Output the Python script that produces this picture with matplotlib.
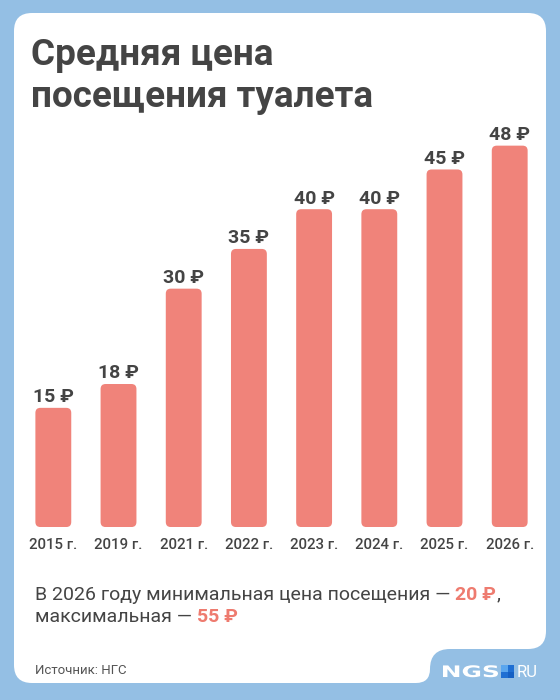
import matplotlib
matplotlib.use("Agg")
import matplotlib.pyplot as plt
from matplotlib.patches import FancyBboxPatch, PathPatch, Rectangle
from matplotlib.path import Path
from matplotlib.textpath import TextPath
from matplotlib.font_manager import FontProperties
from matplotlib.transforms import Affine2D

# data
years = ["2015 г.", "2019 г.", "2021 г.", "2022 г.", "2023 г.", "2024 г.", "2025 г.", "2026 г."]
prices = [15, 18, 30, 35, 40, 40, 45, 48]
min_price = 20
max_price = 55

title_lines = ["Средняя цена", "посещения туалета"]
source = "Источник: НГС"

BG = "#94bfe4"
BAR = "#f0837a"
TEXT = "#444444"
ACCENT = "#ee7b6f"

plt.rcParams["font.family"] = ["Roboto", "DejaVu Sans"]

fig = plt.figure(figsize=(5.6, 7), dpi=100)
fig.patch.set_facecolor(BG)

# background axes in pixel units (y down)
bg = fig.add_axes([0, 0, 1, 1])
bg.set_xlim(0, 560)
bg.set_ylim(700, 0)
bg.axis("off")

# white card with the notch for the logo
r = 18
verts = [
    (14 + r, 13), (546 - r, 13),
    (546, 13), (546, 13 + r),
    (546, 649 - r),
    (546, 649), (546 - r, 649),
    (450, 649),
    (430, 649), (430, 669),
    (430, 683), (416, 683),
    (14 + r, 683),
    (14, 683), (14, 683 - r),
    (14, 13 + r),
    (14, 13), (14 + r, 13),
    (14 + r, 13),
]
codes = [
    Path.MOVETO, Path.LINETO,
    Path.CURVE3, Path.CURVE3,
    Path.LINETO,
    Path.CURVE3, Path.CURVE3,
    Path.LINETO,
    Path.CURVE3, Path.CURVE3,
    Path.CURVE3, Path.CURVE3,
    Path.LINETO,
    Path.CURVE3, Path.CURVE3,
    Path.LINETO,
    Path.CURVE3, Path.CURVE3,
    Path.CLOSEPOLY,
]
bg.add_patch(PathPatch(Path(verts, codes), fc="white", ec="none"))

# title
bg.text(31, 65, title_lines[0], fontsize=26.6, fontweight="bold", color=TEXT, va="baseline")
bg.text(31, 107, title_lines[1], fontsize=26.6, fontweight="bold", color=TEXT, va="baseline")

# bars
ax = fig.add_axes([0.037, 0.2471, 0.9314, 0.6243])
ax.set_xlim(-0.5, 7.5)
ax.set_ylim(0, 55)
ax.patch.set_alpha(0)
for s in ax.spines.values():
    s.set_visible(False)

xs = list(range(len(prices)))
bars = ax.bar(xs, prices, width=0.55, color=BAR)

# round the bar corners
box = ax.get_position()
px_x = box.width * 560 / 8.0
px_y = box.height * 700 / 55.0
aspect = px_x / px_y
for b in bars:
    fb = FancyBboxPatch((b.get_x(), b.get_y()), b.get_width(), b.get_height(),
                        boxstyle="round,pad=0,rounding_size=%f" % (5 / px_x),
                        mutation_aspect=aspect, fc=BAR, ec="none")
    b.remove()
    ax.add_patch(fb)

for i, v in enumerate(prices):
    ax.annotate(f"{v} ₽", (i, v), xytext=(0, 4), textcoords="offset points",
                ha="center", va="baseline", fontsize=14, fontweight="bold", color=TEXT)

ax.set_xticks(xs, years)
ax.set_yticks([])
ax.tick_params(axis="x", length=0, pad=8, labelsize=10.8, labelcolor=TEXT)
for lbl in ax.get_xticklabels():
    lbl.set_fontweight("medium")

# footer note with coloured values
renderer = fig.canvas.get_renderer()
inv = bg.transData.inverted()


def write_run(x, y, pieces, size=14):
    for txt, color, weight, gap in pieces:
        t = bg.text(x, y, txt, fontsize=size, color=color, fontweight=weight, va="baseline")
        ext = t.get_window_extent(renderer)
        x = inv.transform((ext.x1, ext.y0))[0] + gap


write_run(35, 599.5, [
    ("В 2026 году минимальная цена посещения —", TEXT, "normal", 5),
    (f"{min_price} ₽", ACCENT, "bold", 0),
    (",", TEXT, "normal", 0),
])
write_run(35, 622, [
    ("максимальная —", TEXT, "normal", 5),
    (f"{max_price} ₽", ACCENT, "bold", 0),
])

bg.text(35, 674.5, source, fontsize=9.5, color="#555555", va="baseline")

# logo: stretched "NGS", blue square, "RU"
tp = TextPath((0, 0), "NGS", size=17, prop=FontProperties(family="DejaVu Sans", weight="bold"))
ext = tp.get_extents()
sx = 55.0 / ext.width
tr = Affine2D().translate(-ext.x0, 0).scale(sx, -12.0 / ext.height).translate(443, 677)
bg.add_patch(PathPatch(tr.transform_path(tp), fc="white", ec="none"))
sq = 6.5
bg.add_patch(Rectangle((501, 665), sq, sq, fc="#5aa6ee", ec="none"))
bg.add_patch(Rectangle((501 + sq, 665), sq, sq, fc="#1f6fd3", ec="none"))
bg.add_patch(Rectangle((501, 665 + sq), sq, sq, fc="#1f6fd3", ec="none"))
bg.add_patch(Rectangle((501 + sq, 665 + sq), sq, sq, fc="#1560c4", ec="none"))
bg.text(517, 677, "RU", fontsize=12, color="white", va="baseline")

fig.savefig("out.png", dpi=100, facecolor=BG)
